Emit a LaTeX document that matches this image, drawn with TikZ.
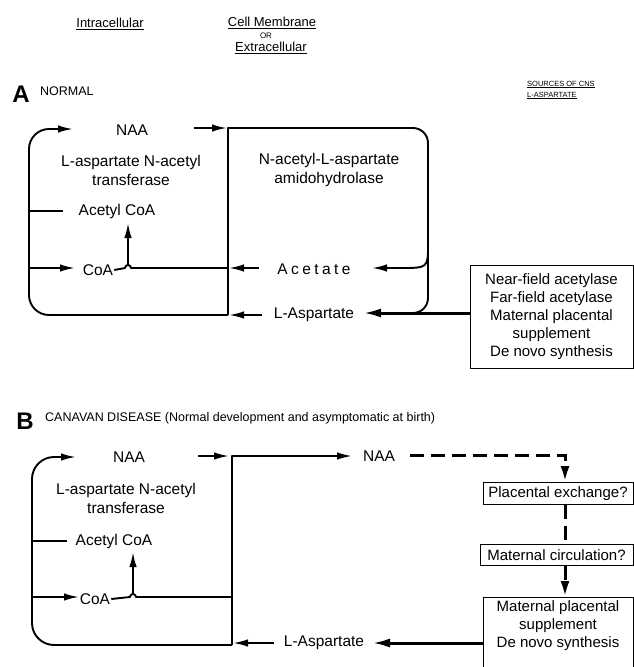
\documentclass[tikz,border=0pt]{standalone}
\usepackage{fontspec}
\setmainfont{Liberation Sans}
\usetikzlibrary{arrows.meta}
\tikzstyle{path}=[line width=1.9pt, line join=round]
\tikzstyle{flow}=[path, -{Latex[length=15pt,width=7.5pt]}]
\tikzstyle{supply}=[line width=3pt, -{Latex[length=18pt,width=9pt]}]
\tikzstyle{guess}=[line width=3pt, dash pattern=on 14pt off 7pt]
\tikzstyle{lbl}=[inner sep=1pt, font=\fontsize{15.5}{18}\selectfont]
\tikzstyle{enz}=[lbl, align=center, font=\fontsize{15.5}{19}\selectfont]
\tikzstyle{src}=[draw, line width=0.9pt, align=center, inner sep=2pt, font=\fontsize{15}{18}\selectfont]
\tikzstyle{hdr}=[inner sep=1pt, font=\fontsize{13}{15}\selectfont]
\tikzstyle{panel}=[inner sep=0pt, font=\fontsize{24}{24}\bfseries\selectfont]
\tikzstyle{title}=[anchor=west, inner sep=0pt, font=\fontsize{12.5}{15}\selectfont]

\begin{document}
\begin{tikzpicture}[x=1pt,y=-1pt]
\useasboundingbox (0,0) rectangle (634,667);

%The headings
\draw (110,24) node[hdr] (intra) {\underline{Intracellular}};
\draw (272,23) node[hdr] (memb) {\underline{Cell Membrane}};
\draw (266,36) node[inner sep=0pt, font=\fontsize{8}{9}\selectfont] (or) {OR};
\draw (271,48) node[hdr] (extra) {\underline{Extracellular}};
\draw (527,90) node[anchor=west, align=left, inner sep=0pt, font=\fontsize{7.5}{11}\selectfont] (srchdr) {\underline{SOURCES OF CNS}\\\underline{L-ASPARTATE}};

%Panel A
\draw (21,94) node[panel] (pa) {A};
\draw (40,91) node[title] (normal) {NORMAL};

\draw (132,130) node[lbl] (naaA) {NAA};
\draw (131,170) node[enz] (transA) {L-aspartate N-acetyl\\transferase};
\draw (329,170) node[enz] (amidoA) {N-acetyl-L-aspartate\\amidohydrolase};
\draw (117,211) node[lbl] (acoaA) {Acetyl CoA};
\draw (98,270) node[lbl] (coaA) {CoA};
\draw (314,269) node[lbl, font=\fontsize{15.5}{18}\selectfont\addfontfeature{LetterSpace=22}] (acetA) {Acetate};
\draw (314,315) node[lbl] (aspA) {L-Aspartate};
\draw (551.5,316.5) node[src, minimum width=163pt, minimum height=103pt] (srcA) {Near-field acetylase\\Far-field acetylase\\Maternal placental\\supplement\\De novo synthesis};

\coordinate (mAtop) at (228,128);
\coordinate (mAbot) at (228,315);
\coordinate (mAcoa) at (228,268);
\coordinate (mAacet) at (229,268);
\coordinate (mAright) at (428,245);
\coordinate (mAjoin) at (405,313);
\coordinate (naaAin) at (73,129);
\coordinate (naaAout) at (194,128);
\coordinate (acoaAin) at (63,211);
\coordinate (coaAin) at (75,268);
\coordinate (upA) at (128,265);
\coordinate (upAtip) at (128,223);
\coordinate (acetAout) at (259,268);
\coordinate (acetAin) at (372,268);
\coordinate (aspAout) at (262,315);
\coordinate (aspAin) at (229,315);
\coordinate (srcAin) at (363,313);

%The membrane
\draw[path] (mAbot) -- (mAtop) -- (300,128);
\draw[path, rounded corners=15pt] (300,128) -- (428,128) -- (428,313) -- (mAjoin);
\draw[flow] (mAright) .. controls (428,268) .. (400,268) -- (acetAin);
\draw[flow] (naaAout) -- ([xshift=-1pt]mAtop);

%The cycle
\draw[flow, rounded corners=20pt] (mAbot) -- (29,315) -- (29,129) -- (naaAin);
\draw[path] (29,211) -- (acoaAin);
\draw[flow] (29,268) -- (coaAin);
\draw[path] (coaA.east) -- (125,268) arc[start angle=180, end angle=360, radius=3] -- (mAcoa);
\draw[flow] (upA) -- (upAtip);
\draw[flow] (acetAout) -- (mAacet);
\draw[flow] (aspAout) -- (aspAin);
\draw[supply] (srcA.west |- srcAin) -- (srcAin);

%Panel B
\draw (25,421) node[panel] (pb) {B};
\draw (45,418) node[title] (canavan) {CANAVAN DISEASE (Normal development and asymptomatic at birth)};

\draw (129,457) node[lbl] (naaB) {NAA};
\draw (126,498) node[enz] (transB) {L-aspartate N-acetyl\\transferase};
\draw (114,541) node[lbl] (acoaB) {Acetyl CoA};
\draw (95,599) node[lbl] (coaB) {CoA};
\draw (324,643) node[lbl] (aspB) {L-Aspartate};
\draw (379,456) node[lbl] (naaB2) {NAA};
\draw (558,493.5) node[src, minimum width=150pt, minimum height=22pt] (placB) {Placental exchange?};
\draw (556.5,555) node[src, minimum width=153pt, minimum height=21pt] (circB) {Maternal circulation?};
\draw (558,597) node[src, anchor=north, minimum width=150pt, inner ysep=3pt, text depth=30pt] (matB) {Maternal placental\\supplement\\De novo synthesis};

\coordinate (mBtop) at (232,456);
\coordinate (mBbot) at (232,645);
\coordinate (mBcoa) at (232,597);
\coordinate (naaBin) at (76,457);
\coordinate (naaBout) at (198,456);
\coordinate (naaB2in) at (352,456);
\coordinate (acoaBin) at (67,541);
\coordinate (coaBin) at (79,597);
\coordinate (upB) at (133,594);
\coordinate (upBtip) at (133,552);
\coordinate (aspBout) at (274,643);
\coordinate (aspBin) at (233,643);
\coordinate (matBin) at (372,643);
\coordinate (guessout) at (410,455);
\coordinate (turn) at (565,455);

%The membrane
\draw[flow] (mBbot) -- (mBtop) -- (naaB2in);
\draw[flow] (naaBout) -- ([xshift=-3pt]mBtop);

%The cycle
\draw[flow, rounded corners=22pt] (mBbot) -- (32,645) -- (32,457) -- (naaBin);
\draw[path] (32,541) -- (acoaBin);
\draw[flow] (32,597) -- (coaBin);
\draw[path] (coaB.east) -- (130,597) arc[start angle=180, end angle=360, radius=3] -- (mBcoa);
\draw[flow] (upB) -- (upBtip);
\draw[flow] (aspBout) -- (aspBin);
\draw[supply] (matB.west |- matBin) -- (matBin);

%The maternal route
\draw[guess, -{Latex[length=16pt,width=9pt]}] (guessout) -- (turn) -- (turn |- placB.north);
\draw[guess] (turn |- placB.south) -- (turn |- circB.north);
\draw[guess, -{Latex[length=16pt,width=9pt]}] (turn |- circB.south) -- (turn |- matB.north);
\end{tikzpicture}
\end{document}
